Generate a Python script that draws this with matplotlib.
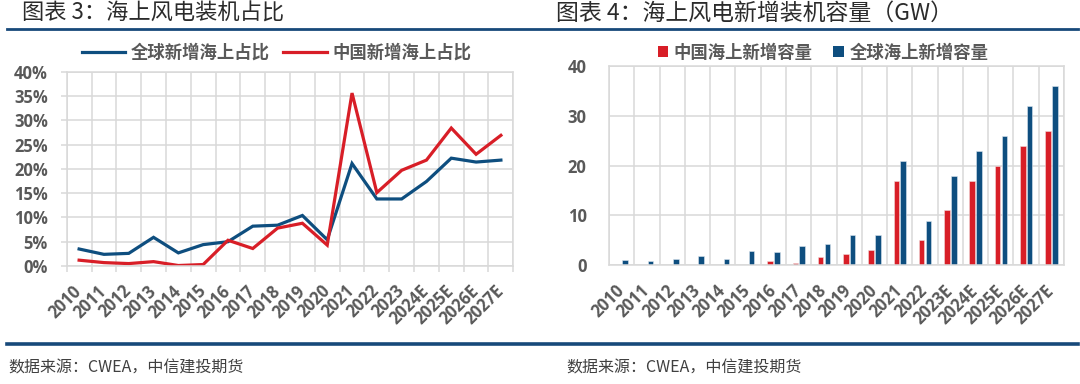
import matplotlib
matplotlib.use("Agg")
import matplotlib.pyplot as plt
from matplotlib.lines import Line2D
import numpy as np

# ---------------- data ----------------
years_left = ["2010", "2011", "2012", "2013", "2014", "2015", "2016", "2017", "2018",
              "2019", "2020", "2021", "2022", "2023", "2024E", "2025E", "2026E", "2027E"]
global_share = [3.5, 2.4, 2.6, 5.9, 2.7, 4.4, 5.0, 8.2, 8.4,
                10.4, 5.4, 21.1, 13.8, 13.8, 17.4, 22.2, 21.4, 21.8]
china_share = [1.2, 0.7, 0.5, 0.9, 0.1, 0.3, 5.3, 3.6, 7.8,
               8.8, 4.3, 35.6, 15.1, 19.7, 21.8, 28.4, 23.0, 26.9]

years_right = ["2010", "2011", "2012", "2013", "2014", "2015", "2016", "2017", "2018",
               "2019", "2020", "2021", "2022", "2023E", "2024E", "2025E", "2026E", "2027E"]
china_gw = [0, 0, 0, 0, 0, 0, 0.9, 0.5, 1.6, 2.2, 3.0, 16.9, 5.1, 11.0, 17.0, 20.0, 24.0, 27.0]
global_gw = [1.0, 0.9, 1.2, 1.8, 1.3, 2.9, 2.6, 3.8, 4.2, 6.1, 6.1, 21.0, 8.8, 17.9, 23.0, 25.9, 31.9, 36.0]

left_title = "图表 3：海上风电装机占比"
right_title = "图表 4：海上风电新增装机容量（GW）"
source_text = "数据来源：CWEA，中信建投期货"
left_legend = ["全球新增海上占比", "中国新增海上占比"]
right_legend = ["中国海上新增容量", "全球海上新增容量"]

# ---------------- style ----------------
BLUE = "#0E4E7F"
RED = "#D81E27"
GRID = "#D9D9D9"
TXT = "#595959"
RULE = "#17497A"
CJK = ["Noto Sans CJK SC", "DejaVu Sans"]
NUM = ["Open Sans", "Noto Sans CJK SC"]

W, H = 1080, 384
fig = plt.figure(figsize=(W / 100, H / 100), dpi=100)


def fx(px):
    return px / W


def fy(py):
    return 1 - py / H


# header / footer rules
fig.add_artist(Line2D([fx(7), fx(1078)], [fy(29)] * 2, color=RULE, lw=2.0))
fig.add_artist(Line2D([fx(7), fx(1078)], [fy(344)] * 2, color=RULE, lw=2.6))

fig.text(fx(22), fy(2), left_title, family=CJK, fontsize=16, color="#2B2B2B", va="top", ha="left")
fig.text(fx(556), fy(2), right_title, family=CJK, fontsize=16.5, color="#2B2B2B", va="top", ha="left")
fig.text(fx(8), fy(368), source_text, family=CJK, fontsize=11.5, color="#404040", va="center", ha="left")
fig.text(fx(566), fy(368), source_text, family=CJK, fontsize=11.5, color="#404040", va="center", ha="left")


def style_axes(ax, n, tick_out):
    ax.set_xlim(-0.5, n - 0.5)
    ax.set_xticks(np.arange(n))
    ax.set_xticks(np.arange(n + 1) - 0.5, minor=True)
    ax.grid(False)
    ax.grid(True, axis="x", which="minor", color=GRID, lw=1.1)
    ax.grid(True, axis="y", which="major", color=GRID, lw=1.1)
    ax.set_axisbelow(True)
    for s in ax.spines.values():
        s.set_color(GRID)
        s.set_linewidth(1.1)
    ax.tick_params(axis="x", which="major", length=0)
    if tick_out:
        ax.tick_params(axis="x", which="minor", length=4, width=1.1, color=GRID, direction="out")
        ax.tick_params(axis="y", which="major", length=4, width=1.1, color=GRID, direction="out")
    else:
        ax.tick_params(axis="x", which="minor", length=0)
        ax.tick_params(axis="y", which="major", length=0)


# ---------------- left chart ----------------
axL = fig.add_axes([fx(66.7), fy(266), fx(513.3 - 66.7), (266 - 71.7) / H])
xL = np.arange(len(years_left))
lg1, = axL.plot(xL, global_share, color=BLUE, lw=2.3, solid_joinstyle="miter")
lg2, = axL.plot(xL, china_share, color=RED, lw=2.3, solid_joinstyle="miter")
style_axes(axL, len(years_left), True)
axL.set_ylim(0, 40)
axL.set_yticks(np.arange(0, 41, 5))
axL.set_yticklabels([f"{v}%" for v in range(0, 41, 5)])
axL.set_xticklabels(years_left)
axL.tick_params(axis="y", pad=9.5)
axL.tick_params(axis="x", which="major", pad=16)

# ---------------- right chart ----------------
axR = fig.add_axes([fx(609), fy(265), fx(1064 - 609), (265 - 66.2) / H])
xR = np.arange(len(years_right))
bw = 0.22
b1 = axR.bar(xR - 0.13, china_gw, width=bw, color=RED, edgecolor="#F2DADB", lw=0.4)
b2 = axR.bar(xR + 0.14, global_gw, width=bw, color=BLUE, edgecolor="#DCE6EF", lw=0.4)
style_axes(axR, len(years_right), False)
axR.set_ylim(0, 40)
axR.set_yticks(np.arange(0, 41, 10))
axR.set_xticklabels(years_right)
axR.tick_params(axis="y", pad=16)
axR.tick_params(axis="x", which="major", pad=16.5)

for ax in (axL, axR):
    for lab in ax.get_xticklabels():
        lab.set_rotation(45)
        lab.set_rotation_mode("anchor")
        lab.set_ha("right")
        lab.set_va("center")
    for lab in ax.get_xticklabels() + ax.get_yticklabels():
        lab.set_family(NUM)
        lab.set_fontweight("bold")
        lab.set_fontsize(12)
        lab.set_color(TXT)

# ---------------- legends ----------------
legL = fig.legend([lg1, lg2], left_legend, loc="center", bbox_to_anchor=(fx(276.5), fy(53)),
                  ncol=2, frameon=False, handlelength=2.5, handletextpad=0.3,
                  columnspacing=0.8, borderpad=0, borderaxespad=0,
                  prop={"family": CJK, "weight": "bold", "size": 12.5})
for t in legL.get_texts():
    t.set_color(TXT)

legR = fig.legend([b1, b2], right_legend, loc="center", bbox_to_anchor=(fx(823), fy(53)),
                  ncol=2, frameon=False, handlelength=0.6, handleheight=0.6, handletextpad=0.32,
                  columnspacing=1.2, borderpad=0, borderaxespad=0,
                  prop={"family": CJK, "weight": "bold", "size": 12.5})
for t in legR.get_texts():
    t.set_color(TXT)
for h in legR.legend_handles:
    h.set_edgecolor("none")

fig.savefig("out.png", dpi=100)
